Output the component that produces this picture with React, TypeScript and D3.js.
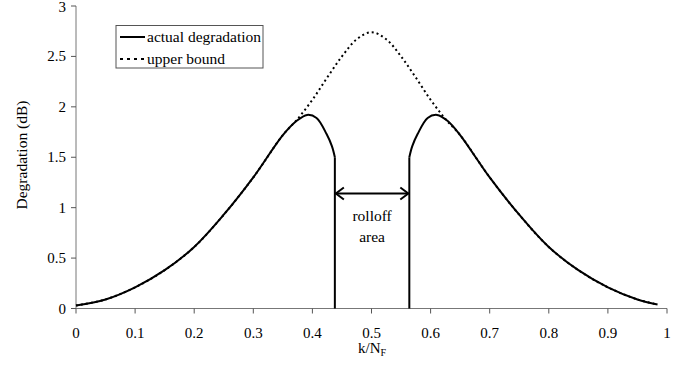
import React from 'react';
import * as d3 from 'd3';

// k/NF grid for the upper bound
const kUpper = [0, 0.05, 0.1, 0.15, 0.2, 0.25, 0.3, 0.35, 0.375, 0.4, 0.425, 0.45, 0.475, 0.5,
  0.525, 0.55, 0.575, 0.6, 0.625, 0.65, 0.7, 0.75, 0.8, 0.85, 0.9, 0.95, 0.984];
const upperBound = [0.03, 0.09, 0.21, 0.38, 0.61, 0.93, 1.30, 1.72, 1.88, 2.07, 2.29, 2.50, 2.67, 2.74,
  2.67, 2.50, 2.29, 2.07, 1.88, 1.72, 1.30, 0.93, 0.61, 0.38, 0.21, 0.09, 0.04];

// actual degradation, left and right of the rolloff area
const kActualLeft = [0, 0.05, 0.1, 0.15, 0.2, 0.25, 0.3, 0.35, 0.373, 0.391, 0.407, 0.424, 0.433, 0.438];
const actualLeft = [0.03, 0.09, 0.21, 0.38, 0.61, 0.93, 1.30, 1.72, 1.86, 1.92, 1.89, 1.73, 1.61, 1.50];
const kActualRight = [0.564, 0.569, 0.578, 0.595, 0.611, 0.629, 0.65, 0.7, 0.75, 0.8, 0.85, 0.9, 0.95, 0.984];
const actualRight = [1.50, 1.61, 1.73, 1.89, 1.92, 1.86, 1.72, 1.30, 0.93, 0.61, 0.38, 0.21, 0.09, 0.04];

const rolloffEdges = [0.438, 0.564];
const arrowLevel = 1.14;

const xTicks = [0, 0.1, 0.2, 0.3, 0.4, 0.5, 0.6, 0.7, 0.8, 0.9, 1];
const yTicks = [0, 0.5, 1, 1.5, 2, 2.5, 3];

const legendLabels = ['actual degradation', 'upper bound'];

const App = () => {
  const width = 689;
  const height = 367;
  const font = '"Liberation Serif", "Times New Roman", serif';

  const x = d3.scaleLinear().domain([0, 1]).range([76, 667]);
  const y = d3.scaleLinear().domain([0, 3]).range([308.5, 6]);

  const line = d3.line<[number, number]>()
    .x(d => x(d[0]))
    .y(d => y(d[1]))
    .curve(d3.curveCatmullRom.alpha(0.5));

  const upperPts = kUpper.map((k, i) => [k, upperBound[i]] as [number, number]);
  const leftPts = kActualLeft.map((k, i) => [k, actualLeft[i]] as [number, number]);
  const rightPts = kActualRight.map((k, i) => [k, actualRight[i]] as [number, number]);

  const xl = x(rolloffEdges[0]);
  const xr = x(rolloffEdges[1]);
  const ya = y(arrowLevel);
  const head = 9;

  return (
    <svg width={width} height={height} style={{ position: 'absolute', left: 0, top: 0, background: '#fff' }}
      fontFamily={font}>
      {/* axes */}
      <line x1={x(0)} x2={x(1)} y1={y(0)} y2={y(0)} stroke="#777" strokeWidth={1} />
      <line x1={x(0)} x2={x(0)} y1={y(0)} y2={y(3)} stroke="#777" strokeWidth={1} />
      {xTicks.map(t => (
        <g key={'x' + t}>
          <line x1={x(t)} x2={x(t)} y1={y(0)} y2={y(0) + 5} stroke="#555" />
          <text x={x(t)} y={338} textAnchor="middle" fontSize={15}>{t}</text>
        </g>
      ))}
      {yTicks.map(t => (
        <g key={'y' + t}>
          <line x1={x(0) - 5} x2={x(0)} y1={y(t)} y2={y(t)} stroke="#555" />
          <text x={66} y={Math.max(y(t) + 5, 12)} textAnchor="end" fontSize={15}>{t}</text>
        </g>
      ))}
      <text x={372} y={353} textAnchor="middle" fontSize={15}>
        k/N<tspan fontSize={10} dy={3}>F</tspan>
      </text>
      <text transform={`translate(27,${155}) rotate(-90)`} textAnchor="middle" fontSize={15.5}>Degradation (dB)</text>

      {/* upper bound */}
      <path d={line(upperPts) || ''} fill="none" stroke="#000" strokeWidth={2} strokeDasharray="2,3" />

      {/* actual degradation */}
      <path d={line(leftPts) || ''} fill="none" stroke="#000" strokeWidth={2} />
      <path d={line(rightPts) || ''} fill="none" stroke="#000" strokeWidth={2} />
      <line x1={xl} x2={xl} y1={y(actualLeft[actualLeft.length - 1])} y2={y(0)} stroke="#000" strokeWidth={2} />
      <line x1={xr} x2={xr} y1={y(actualRight[0])} y2={y(0)} stroke="#000" strokeWidth={2} />

      {/* rolloff arrow */}
      <line x1={xl + 1} x2={xr - 1} y1={ya} y2={ya} stroke="#000" strokeWidth={2} />
      <path d={`M${xl + head},${ya - 6} L${xl + 1},${ya} L${xl + head},${ya + 6}`} fill="none" stroke="#000" strokeWidth={2} />
      <path d={`M${xr - head},${ya - 6} L${xr - 1},${ya} L${xr - head},${ya + 6}`} fill="none" stroke="#000" strokeWidth={2} />
      <text x={(xl + xr) / 2} y={221} textAnchor="middle" fontSize={15.5}>rolloff</text>
      <text x={(xl + xr) / 2} y={242} textAnchor="middle" fontSize={15.5}>area</text>

      {/* legend */}
      <rect x={116} y={25.5} width={147} height={42.5} fill="#fff" stroke="#555" strokeWidth={1} />
      <line x1={120} x2={145} y1={37} y2={37} stroke="#000" strokeWidth={2} />
      <line x1={120} x2={145} y1={59} y2={59} stroke="#000" strokeWidth={2} strokeDasharray="3,4" />
      <text x={147} y={42} fontSize={15.5}>{legendLabels[0]}</text>
      <text x={147} y={64} fontSize={15.5}>{legendLabels[1]}</text>
    </svg>
  );
};

export default App;
